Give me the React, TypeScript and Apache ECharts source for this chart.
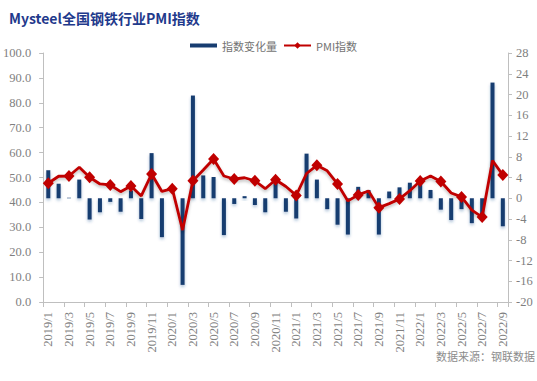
import React, { useEffect, useRef } from "react";
import * as echarts from "echarts";

const categories = [
  "2019/1", "2019/2", "2019/3", "2019/4", "2019/5", "2019/6", "2019/7", "2019/8", "2019/9", "2019/10", "2019/11", "2019/12",
  "2020/1", "2020/2", "2020/3", "2020/4", "2020/5", "2020/6", "2020/7", "2020/8", "2020/9", "2020/10", "2020/11", "2020/12",
  "2021/1", "2021/2", "2021/3", "2021/4", "2021/5", "2021/6", "2021/7", "2021/8", "2021/9", "2021/10", "2021/11", "2021/12",
  "2022/1", "2022/2", "2022/3", "2022/4", "2022/5", "2022/6", "2022/7", "2022/8", "2022/9",
];

// 指数变化量 (right axis)
const changeValues = [
  5.4, 2.8, 0.1, 3.6, -4.1, -2.7, -0.7, -2.6, 1.5, -4.0, 8.7, -7.5,
  0, -16.7, 19.8, 4.4, 4.1, -7.1, -1.1, 0.4, -1.3, -2.7, 3.6, -2.6,
  -3.9, 8.6, 3.6, -2.1, -5.1, -7.0, 2.2, 1.6, -7.0, 1.3, 2.1, 3.0,
  3.0, 1.6, -2.2, -4.2, -2.1, -4.8, -3.5, 22.3, -5.4,
];

// PMI指数 (left axis)
const pmiValues = [
  47.7, 50.5, 50.6, 54.1, 50.1, 47.4, 47.0, 44.3, 46.6, 42.6, 51.4, 44.4,
  45.5, 28.9, 48.7, 53.0, 57.4, 50.6, 49.4, 49.9, 48.7, 45.5, 49.1, 46.4,
  42.8, 51.6, 54.9, 52.7, 47.4, 40.6, 43.0, 44.6, 37.9, 39.5, 41.4, 44.7,
  48.6, 50.6, 48.4, 43.8, 42.2, 36.9, 34.1, 56.8, 51.0,
];

const titleText = "Mysteel全国钢铁行业PMI指数";
const sourceText = "数据来源：钢联数据";
const barName = "指数变化量";
const lineName = "PMI指数";

export default function App() {
  const ref = useRef<HTMLDivElement>(null);
  useEffect(() => {
    if (!ref.current) return;
    const chart = echarts.init(ref.current, undefined, { renderer: "svg" });
    const axisLabelStyle = {
      color: "#7F7F7F",
      fontFamily: "Liberation Serif",
      fontSize: 12.5,
    };
    const axisLine = { show: true, lineStyle: { color: "#BFBFBF", width: 1 } };
    chart.setOption({
      animation: false,
      backgroundColor: "#FFFFFF",
      title: {
        text: titleText,
        left: 4,
        top: 6,
        textStyle: {
          fontFamily: "Noto Sans CJK SC",
          fontWeight: "bold",
          fontSize: 14,
          color: "#1F3A8C",
        },
      },
      legend: {
        top: 35,
        left: 185,
        itemWidth: 27,
        itemHeight: 8,
        itemGap: 6,
        textStyle: { fontFamily: "Noto Sans CJK SC", fontSize: 11, color: "#737373" },
        data: [
          { name: barName, icon: "path://M0,2 L27,2 L27,6 L0,6 Z" },
          { name: lineName },
        ],
      },
      grid: { left: 43, right: 29, top: 53, bottom: 79, containLabel: false },
      xAxis: {
        type: "category",
        data: categories,
        boundaryGap: true,
        axisLine,
        axisTick: { show: true, interval: 1, length: 5, lineStyle: { color: "#BFBFBF" } },
        axisLabel: { ...axisLabelStyle, interval: 1, rotate: 90, margin: 10 },
      },
      yAxis: [
        {
          type: "value",
          min: 0,
          max: 100,
          interval: 10,
          position: "left",
          axisLine,
          axisTick: { show: true, length: 4, lineStyle: { color: "#BFBFBF" } },
          splitLine: { show: false },
          axisLabel: { ...axisLabelStyle, margin: 12, formatter: (v: number) => v.toFixed(1) },
        },
        {
          type: "value",
          min: -20,
          max: 28,
          interval: 4,
          position: "right",
          axisLine,
          axisTick: { show: true, length: 4, lineStyle: { color: "#BFBFBF" } },
          splitLine: { show: false },
          axisLabel: { ...axisLabelStyle, margin: 8 },
        },
      ],
      series: [
        {
          name: barName,
          type: "bar",
          yAxisIndex: 1,
          data: changeValues,
          barWidth: 4,
          itemStyle: {
            color: "#173D70",
            shadowColor: "rgba(30,70,140,0.35)",
            shadowBlur: 3,
            shadowOffsetY: 2,
          },
          z: 2,
        },
        {
          name: lineName,
          type: "line",
          yAxisIndex: 0,
          data: pmiValues,
          symbol: "diamond",
          symbolSize: [11, 12],
          lineStyle: {
            color: "#C00000",
            width: 2.8,
            shadowColor: "rgba(0,0,0,0.25)",
            shadowBlur: 3,
            shadowOffsetY: 2,
          },
          itemStyle: { color: "#C00000" },
          z: 3,
        },
      ],
      graphic: [
        {
          type: "text",
          right: 2,
          top: 350,
          style: {
            text: sourceText,
            font: "11px 'Noto Sans CJK SC'",
            fill: "#8C8C8C",
          },
        },
      ],
    });
    return () => chart.dispose();
  }, []);
  return (
    <div
      ref={ref}
      style={{ position: "fixed", left: 0, top: 0, width: 537, height: 381 }}
    />
  );
}
